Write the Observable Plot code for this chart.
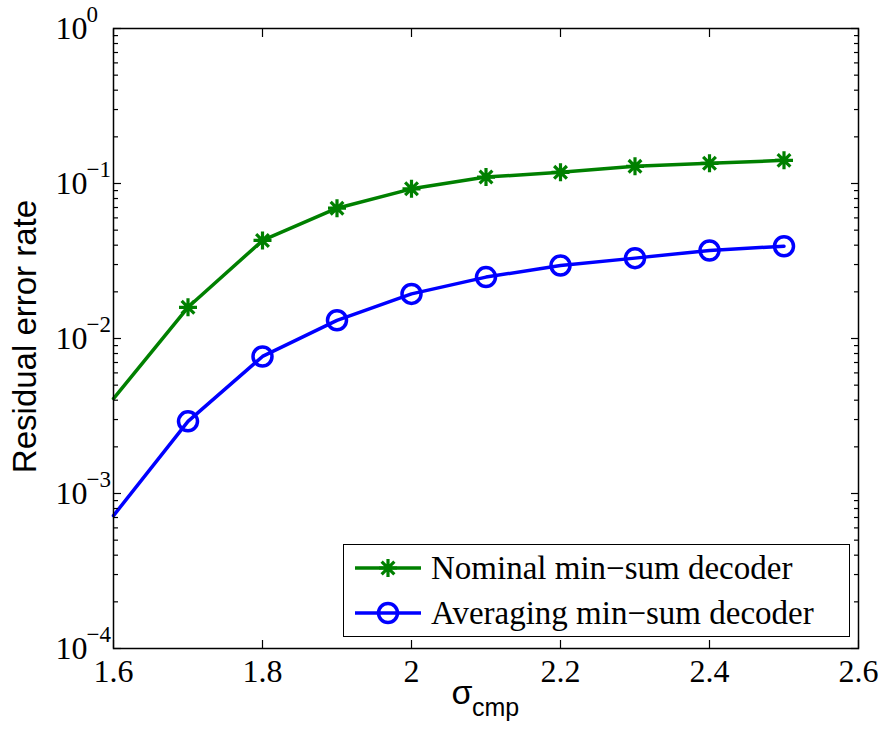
<!DOCTYPE html>
<html><head><meta charset="utf-8">
<script src="https://cdn.jsdelivr.net/npm/d3@7"></script>
<script src="https://cdn.jsdelivr.net/npm/@observablehq/plot@0.6"></script>
<style>
body{margin:0;background:#fff;}
#wrap{position:relative;width:884px;height:742px;}
#legend{position:absolute;left:343px;top:544px;width:507px;height:93px;border:1.5px solid #000;background:#fff;box-sizing:border-box;font-family:"Liberation Serif","Times New Roman",serif;font-size:33px;}
.row{position:absolute;left:0;height:40px;display:flex;align-items:center;white-space:nowrap;}
.row svg{display:block;margin-left:11px;margin-right:10px;}
</style></head>
<body><div id="wrap"></div>
<script>
const sigma = [1.6, 1.7, 1.8, 1.9, 2.0, 2.1, 2.2, 2.3, 2.4, 2.5];
const nominal = [0.0041, 0.0159, 0.0429, 0.0693, 0.0924, 0.110, 0.118, 0.129, 0.135, 0.141];
const averaging = [0.00072, 0.00292, 0.00766, 0.0131, 0.0194, 0.0249, 0.0296, 0.0330, 0.0370, 0.0394];
const seriesNames = ["Nominal min\u2212sum decoder", "Averaging min\u2212sum decoder"];
const seriesColors = ["#008000", "#0000ff"];
const xTicks = [1.6, 1.8, 2, 2.2, 2.4, 2.6];
const yTicks = [1e-4, 1e-3, 1e-2, 1e-1, 1];
const minorMultipliers = [2, 3, 4, 5, 6, 7, 8, 9];
const yLabel = "Residual error rate";
const xLabelMain = "\u03c3";
const xLabelSub = "cmp";

const nomData = sigma.map((s, i) => ({sigma: s, value: nominal[i]}));
const avgData = sigma.map((s, i) => ({sigma: s, value: averaging[i]}));
const minorTicks = yTicks.slice(0, -1).flatMap(t => minorMultipliers.map(m => m * t));

const asterisk8 = {
  draw(ctx, size) {
    const r = Math.sqrt(size / Math.PI);
    for (let k = 0; k < 4; k++) {
      const a = k * Math.PI / 4;
      ctx.moveTo(r * Math.cos(a), r * Math.sin(a));
      ctx.lineTo(-r * Math.cos(a), -r * Math.sin(a));
    }
  }
};
const expText = d => { const e = Math.round(Math.log10(d)); return e < 0 ? "\u2212" + (-e) : String(e); };
const serif = "Liberation Serif, Times New Roman, serif";
const sans = "Liberation Sans, Arial, sans-serif";

const chart = Plot.plot({
  width: 884, height: 742,
  marginLeft: 113, marginRight: 26, marginTop: 28, marginBottom: 94,
  x: {domain: [1.6, 2.6], label: null},
  y: {type: "log", domain: [1e-4, 1], label: null},
  style: {fontFamily: serif, fontSize: "32px", background: "white", color: "black", overflow: "visible"},
  marks: [
    Plot.line(nomData, {x: "sigma", y: "value", stroke: seriesColors[0], strokeWidth: 3.5}),
    Plot.line(avgData, {x: "sigma", y: "value", stroke: seriesColors[1], strokeWidth: 3.5}),
    Plot.dot(nomData.filter(d => d.sigma > 1.6), {x: "sigma", y: "value", symbol: asterisk8, r: 9, stroke: seriesColors[0], strokeWidth: 3.2, fill: "none"}),
    Plot.dot(avgData.filter(d => d.sigma > 1.6), {x: "sigma", y: "value", symbol: "circle", r: 9.5, stroke: seriesColors[1], strokeWidth: 3.5, fill: "none"}),
    Plot.axisX({ticks: xTicks, anchor: "bottom", tickSize: -8, fill: "none", label: null, strokeWidth: 1.2}),
    Plot.axisX({ticks: xTicks, anchor: "top", tickSize: -8, fill: "none", label: null, strokeWidth: 1.2}),
    Plot.axisX({ticks: xTicks, anchor: "bottom", tickSize: 0, tickPadding: 11, tickFormat: d => String(d), label: null, fontSize: 32, fontFamily: serif}),
    Plot.axisY({ticks: yTicks, anchor: "left", tickSize: -8, fill: "none", label: null, strokeWidth: 1.2}),
    Plot.axisY({ticks: yTicks, anchor: "right", tickSize: -8, fill: "none", label: null, strokeWidth: 1.2}),
    Plot.axisY({ticks: minorTicks, anchor: "left", tickSize: -5, fill: "none", label: null, strokeWidth: 1.2}),
    Plot.axisY({ticks: minorTicks, anchor: "right", tickSize: -5, fill: "none", label: null, strokeWidth: 1.2}),
    Plot.frame({stroke: "black", strokeWidth: 1.5}),
    Plot.text(yTicks, {y: d => d, text: () => "10", frameAnchor: "left", textAnchor: "start", dx: -58, fontSize: 32, fontFamily: serif}),
    Plot.text(yTicks, {y: d => d, text: expText, frameAnchor: "left", textAnchor: "start", dx: -27, dy: -14, fontSize: 23, fontFamily: serif}),
    Plot.text([yLabel], {text: d => d, frameAnchor: "left", textAnchor: "middle", rotate: -90, dx: -88, dy: -2, fontSize: 33, fontFamily: sans}),
    Plot.text([xLabelMain], {text: d => d, frameAnchor: "bottom", textAnchor: "start", dx: -34.5, dy: 55, fontSize: 34, fontFamily: sans}),
    Plot.text([xLabelSub], {text: d => d, frameAnchor: "bottom", textAnchor: "start", dx: -14, dy: 67, fontSize: 25, fontFamily: sans})
  ]
});
const wrap = document.getElementById("wrap");
wrap.appendChild(chart);

// Legend
const legend = d3.select(wrap).append("div").attr("id", "legend");
const symbols = [asterisk8, d3.symbolCircle];
const radii = [9, 9.5];
const widths = [3.2, 3.5];
seriesNames.forEach((name, i) => {
  const row = legend.append("div").attr("class", "row").style("top", (3 + i * 45) + "px");
  const svg = row.append("svg").attr("width", 66).attr("height", 40);
  svg.append("line").attr("x1", 0).attr("x2", 66).attr("y1", 20).attr("y2", 20)
    .attr("stroke", seriesColors[i]).attr("stroke-width", 3.5);
  svg.append("path").attr("transform", "translate(33,20)")
    .attr("d", d3.symbol(symbols[i], Math.PI * radii[i] * radii[i])())
    .attr("fill", "none").attr("stroke", seriesColors[i]).attr("stroke-width", widths[i]);
  row.append("span").text(name);
});
</script>
</body></html>
